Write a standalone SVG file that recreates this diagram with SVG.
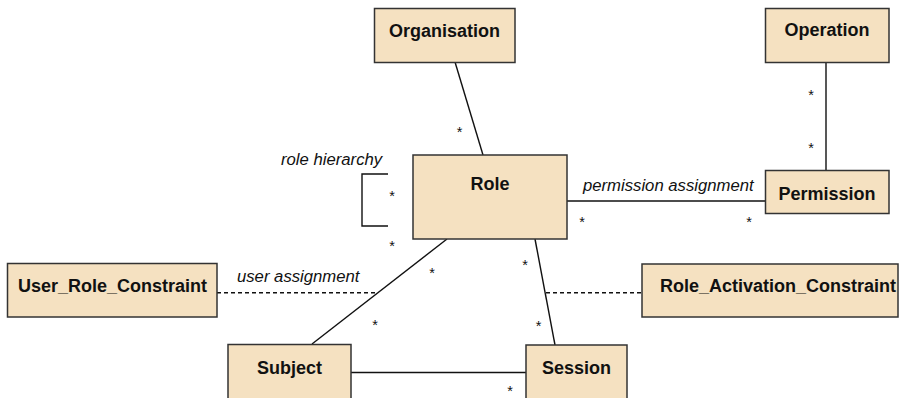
<svg xmlns="http://www.w3.org/2000/svg" width="904" height="398" viewBox="0 0 904 398">
<style>
.box{fill:#f5e1c1;stroke:#333;stroke-width:1.5}
.lbl{font-family:"Liberation Sans",Arial,sans-serif;font-weight:bold;font-size:18px;fill:#111;text-anchor:middle}
.it{font-family:"Liberation Sans",Arial,sans-serif;font-style:italic;font-size:16.7px;fill:#111}
.st{font-family:"Liberation Sans",Arial,sans-serif;font-size:14.5px;fill:#111;text-anchor:middle}
.ln{fill:none;stroke:#111;stroke-width:1.4}
.dash{fill:none;stroke:#111;stroke-width:1.4;stroke-dasharray:4,3}
</style>
<rect width="904" height="398" fill="#fff"/>
<g id="connectors">
<line class="ln" x1="455" y1="62" x2="483" y2="155"/>
<line class="ln" x1="826" y1="62" x2="826" y2="170"/>
<line class="ln" x1="567" y1="201" x2="765" y2="201"/>
<path class="ln" d="M388,174 H362 V226 H388"/>
<line class="ln" x1="447" y1="239" x2="312" y2="344"/>
<line class="ln" x1="535" y1="239" x2="555" y2="345"/>
<line class="ln" x1="351" y1="372.5" x2="526" y2="372.5"/>
<line class="dash" x1="217" y1="292.7" x2="378" y2="292.7"/>
<line class="dash" x1="546" y1="292.7" x2="642" y2="292.7"/>
<text class="it" x="281" y="164.5">role hierarchy</text>
<text class="it" x="583" y="190.5">permission assignment</text>
<text class="it" x="237" y="281.5">user assignment</text>
<text class="st" x="459.5" y="137">*</text>
<text class="st" x="392" y="201">*</text>
<text class="st" x="392" y="251">*</text>
<text class="st" x="582" y="227">*</text>
<text class="st" x="749" y="227">*</text>
<text class="st" x="811" y="100">*</text>
<text class="st" x="811" y="153">*</text>
<text class="st" x="432" y="278">*</text>
<text class="st" x="375" y="330">*</text>
<text class="st" x="525" y="270">*</text>
<text class="st" x="538.5" y="331">*</text>
<text class="st" x="510" y="396">*</text>
</g>
<g id="organisation"><rect class="box" x="374.5" y="8.5" width="140.5" height="54"/><text class="lbl" x="444.5" y="36.5">Organisation</text></g>
<g id="operation"><rect class="box" x="765.5" y="8.5" width="123.5" height="54"/><text class="lbl" x="827" y="36">Operation</text></g>
<g id="role"><rect class="box" x="413" y="155" width="154" height="84"/><text class="lbl" x="490" y="189.5">Role</text></g>
<g id="permission"><rect class="box" x="765.5" y="170.5" width="123.5" height="43"/><text class="lbl" x="827" y="199.5">Permission</text></g>
<g id="user_role_constraint"><rect class="box" x="7.5" y="263.5" width="209.5" height="53.5"/><text class="lbl" x="112.5" y="291.5">User_Role_Constraint</text></g>
<g id="role_activation_constraint"><rect class="box" x="642" y="264" width="256" height="53"/><text class="lbl" x="778" y="291.5">Role_Activation_Constraint</text></g>
<g id="subject"><rect class="box" x="228" y="344.5" width="123" height="60"/><text class="lbl" x="289.5" y="374">Subject</text></g>
<g id="session"><rect class="box" x="526" y="345" width="101" height="60"/><text class="lbl" x="576.5" y="373.5">Session</text></g>
</svg>
